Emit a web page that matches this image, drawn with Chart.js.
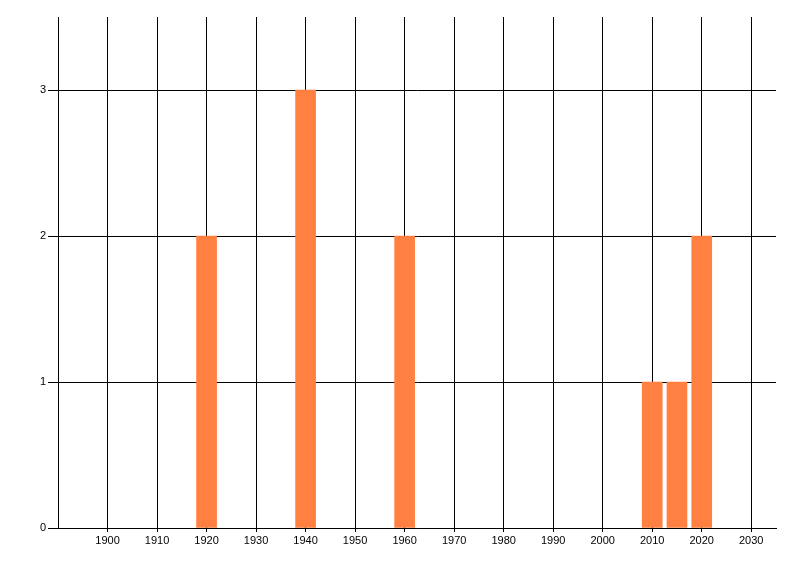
<!DOCTYPE html>
<html>
<head>
<meta charset="utf-8">
<script src="https://cdn.jsdelivr.net/npm/chart.js@4"></script>
<style>
  html, body { margin: 0; padding: 0; background: #fff; }
  #wrap { width: 800px; height: 576px; }
</style>
</head>
<body>
<div id="wrap"><canvas id="myChart" width="800" height="576"></canvas></div>
<script>
const years = [1920, 1940, 1960, 2010, 2015, 2020]
const counts = [2, 3, 2, 1, 1, 2]
const xticks = [1900, 1910, 1920, 1930, 1940, 1950, 1960, 1970, 1980, 1990, 2000, 2010, 2020, 2030]
const yticks = [0, 1, 2, 3]

const points = years.map((y, i) => ({x: y, y: counts[i]}))

Chart.defaults.font.family = "'Liberation Sans', Arial, sans-serif"
Chart.defaults.font.size = 11
Chart.defaults.color = "#000"

new Chart("myChart", {
    type: "bar",
    data: {
        datasets: [{
            data: points,
            backgroundColor: "rgb(255,128,64)",
            borderWidth: 0,
            barThickness: 20,
        }]
    },
    options: {
        responsive: false,
        animation: false,
        layout: {padding: {top: 17, right: 24, left: 0, bottom: 0}},
        plugins: {legend: {display: false}, tooltip: {enabled: false}},
        scales: {
            x: {
                type: "linear",
                offset: false,
                min: 1890,
                max: 2035,
                afterBuildTicks: axis => { axis.ticks = xticks.map(v => ({value: v})) },
                afterFit: axis => { axis.height = 48 },
                grid: {color: "#000", lineWidth: 1, tickLength: 4, offset: false},
                border: {color: "#000", width: 1},
                ticks: {padding: 2, maxRotation: 0, autoSkip: false, callback: v => String(v)},
            },
            y: {
                min: 0,
                max: 3.5,
                afterBuildTicks: axis => { axis.ticks = yticks.map(v => ({value: v})) },
                afterFit: axis => { axis.width = 58 },
                grid: {color: "#000", lineWidth: 1, tickLength: 10},
                border: {color: "#000", width: 1},
                ticks: {padding: 2},
            }
        }
    }
});
</script>
</body>
</html>
